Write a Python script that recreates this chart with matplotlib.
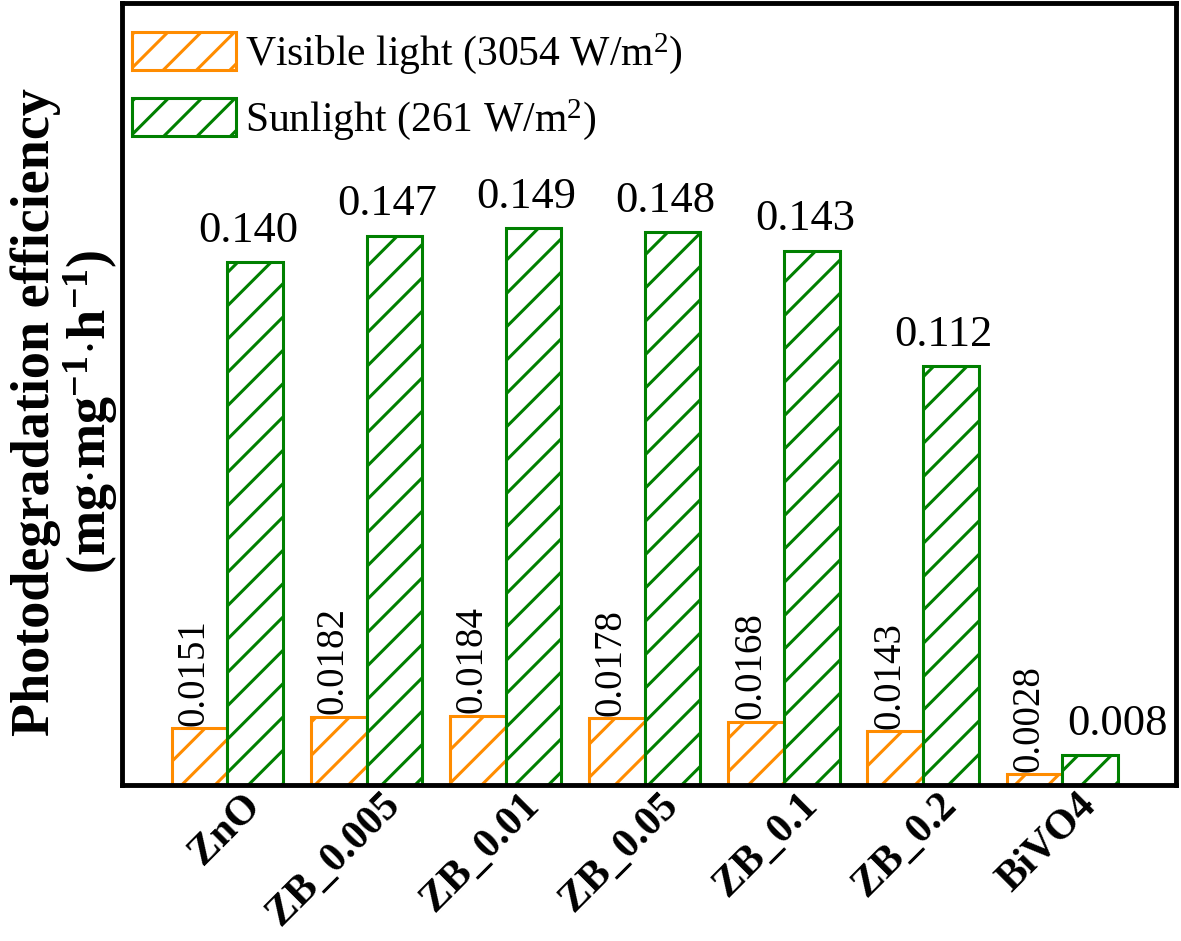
import numpy as np
import matplotlib
matplotlib.use('Agg')
import matplotlib.pyplot as plt
from matplotlib.transforms import ScaledTranslation

plt.rcParams['font.family'] = 'Liberation Serif'
plt.rcParams['mathtext.fontset'] = 'custom'
plt.rcParams['mathtext.rm'] = 'Liberation Serif'
plt.rcParams['mathtext.bf'] = 'Liberation Serif:bold'
plt.rcParams['mathtext.it'] = 'Liberation Serif:italic'
plt.rcParams['hatch.linewidth'] = 2.2

# data
samples = ['ZnO', 'ZB_0.005', 'ZB_0.01', 'ZB_0.05', 'ZB_0.1', 'ZB_0.2', 'BiVO4']
visible = [0.0151, 0.0182, 0.0184, 0.0178, 0.0168, 0.0143, 0.0028]
sunlight = [0.140, 0.147, 0.149, 0.148, 0.143, 0.112, 0.008]
visible_label = 'Visible light (3054 W/m$^2$)'
sun_label = 'Sunlight (261 W/m$^2$)'

orange = '#FF8C00'
green = '#008000'

fig = plt.figure(figsize=(11.81, 9.41), dpi=100)
ax = fig.add_axes([0.103, 0.166, 0.893, 0.831])

x = np.arange(len(samples))
w = 0.4
b1 = ax.bar(x - w/2, visible, w, facecolor='white', edgecolor=orange,
            hatch='/', linewidth=2.2, label=visible_label)
b2 = ax.bar(x + w/2, sunlight, w, facecolor='white', edgecolor=green,
            hatch='/', linewidth=2.2, label=sun_label)

# value labels (the last green one sits to the right of its bar, as in the original)
for xi, v in zip(x - w/2, visible):
    ax.annotate(f'{v:.4f}', (xi, v), xytext=(-4, 2), textcoords='offset points',
                ha='center', va='bottom', rotation=90, fontsize=28)
for i, (xi, v) in enumerate(zip(x + w/2, sunlight)):
    dx = 20 if i == len(sunlight) - 1 else -5
    ax.annotate(f'{v:.3f}', (xi, v), xytext=(dx, 8), textcoords='offset points',
                ha='center', va='bottom', fontsize=32)

ax.set_xlim(-0.76, 6.82)
ax.set_ylim(0, 0.2093)
ax.set_yticks([])
ax.set_xticks(x)
ax.set_xticklabels(samples, rotation=45, ha='right', va='top',
                   rotation_mode='anchor', fontsize=30, fontweight='bold')
ax.tick_params(axis='x', length=0, pad=1)
shift = ScaledTranslation(0.14, 0, fig.dpi_scale_trans)
for lab in ax.get_xticklabels():
    lab.set_transform(lab.get_transform() + shift)
for s in ax.spines.values():
    s.set_linewidth(3.5)

ax.set_ylabel('Photodegradation efficiency\n(mg$\\cdot$mg$^{\\mathbf{-1}}$$\\cdot$h$^{\\mathbf{-1}}$)',
              fontsize=39, fontweight='bold', linespacing=1.0)
ax.yaxis.set_label_coords(-0.002, 0.477)

ax.legend(loc='upper left', bbox_to_anchor=(-0.004, 0.982), frameon=False,
          fontsize=30, handlelength=2.5, handleheight=1.0, handletextpad=0.2,
          labelspacing=0.5, borderpad=0.25, borderaxespad=0.1)

fig.savefig('out.png', dpi=100)
